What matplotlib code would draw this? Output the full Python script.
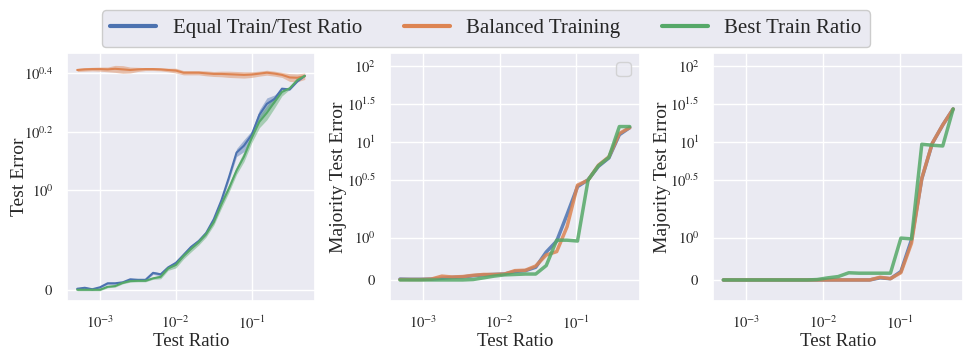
import numpy as np
import matplotlib
matplotlib.use("Agg")
import matplotlib.pyplot as plt
import seaborn as sns
from matplotlib.lines import Line2D
from matplotlib.ticker import NullLocator

# test ratios (left panel is sampled more finely)
ratio_fine = [0.0005, 0.00063, 0.00079, 0.001, 0.00126, 0.00158, 0.002, 0.0025,
              0.00316, 0.00398, 0.005, 0.0063, 0.0079, 0.01, 0.0126, 0.0158,
              0.02, 0.025, 0.0316, 0.0398, 0.05, 0.063, 0.079, 0.1, 0.126,
              0.158, 0.2, 0.25, 0.316, 0.398, 0.5]
ratio_coarse = [0.0005, 0.00068, 0.00094, 0.00128, 0.00176, 0.0024, 0.0033,
                0.0045, 0.0062, 0.0084, 0.0116, 0.0158, 0.0217, 0.0296, 0.0406,
                0.0556, 0.076, 0.104, 0.143, 0.195, 0.267, 0.366, 0.5]

# left panel: mean test error and spread
equal_err = [0.01, 0.02, 0.005, 0.025, 0.065, 0.065, 0.075, 0.105, 0.10, 0.10,
             0.17, 0.155, 0.225, 0.27, 0.35, 0.43, 0.49, 0.57, 0.71, 0.90,
             1.13, 1.38, 1.45, 1.56, 1.76, 1.87, 1.92, 2.06, 2.04, 2.26, 2.43]
equal_sd = [0.01, 0.01, 0.01, 0.01, 0.01, 0.01, 0.01, 0.01, 0.01, 0.01,
            0.015, 0.015, 0.015, 0.02, 0.02, 0.02, 0.02, 0.02, 0.025, 0.03,
            0.03, 0.04, 0.06, 0.04, 0.05, 0.06, 0.04, 0.02, 0.02, 0.02, 0.02]
balanced_err = [2.62, 2.64, 2.65, 2.65, 2.64, 2.66, 2.64, 2.62, 2.64, 2.65,
                2.65, 2.64, 2.62, 2.60, 2.53, 2.53, 2.53, 2.51, 2.49, 2.49,
                2.48, 2.47, 2.46, 2.47, 2.50, 2.53, 2.50, 2.46, 2.38, 2.37, 2.42]
balanced_sd = [0.05, 0.06, 0.06, 0.07, 0.08, 0.12, 0.13, 0.10, 0.07, 0.05,
               0.05, 0.05, 0.06, 0.08, 0.07, 0.07, 0.07, 0.08, 0.08, 0.09,
               0.10, 0.10, 0.10, 0.09, 0.08, 0.08, 0.08, 0.08, 0.12, 0.12, 0.10]
best_err = [0.0, 0.0, 0.0, 0.0, 0.03, 0.037, 0.07, 0.087, 0.09, 0.09,
            0.115, 0.13, 0.215, 0.25, 0.34, 0.41, 0.48, 0.56, 0.68, 0.86,
            1.02, 1.20, 1.34, 1.53, 1.69, 1.78, 1.89, 1.99, 2.07, 2.30, 2.43]
best_sd = [0.01, 0.01, 0.01, 0.01, 0.01, 0.01, 0.01, 0.01, 0.01, 0.01,
           0.01, 0.02, 0.02, 0.03, 0.03, 0.03, 0.03, 0.03, 0.03, 0.04,
           0.04, 0.04, 0.05, 0.05, 0.06, 0.07, 0.06, 0.04, 0.03, 0.02, 0.02]

# middle panel: majority test error
equal_maj = [0.02, 0.015, 0.015, 0.02, 0.04, 0.06, 0.07, 0.10, 0.12, 0.13, 0.14,
             0.20, 0.22, 0.30, 0.66, 0.92, 1.55, 2.6, 3.2, 4.8, 6.2, 12.5, 15.5]
balanced_maj = [0.01, 0.01, 0.01, 0.02, 0.09, 0.07, 0.08, 0.11, 0.13, 0.13, 0.14,
                0.22, 0.23, 0.33, 0.59, 0.67, 1.26, 2.72, 3.17, 4.98, 6.4, 13.0, 15.5]
best_maj = [0.0, 0.0, 0.0, 0.0, 0.0, 0.0, 0.0, 0.01, 0.05, 0.09, 0.12,
            0.13, 0.14, 0.14, 0.34, 0.94, 0.94, 0.92, 3.18, 4.9, 6.3, 16.0, 16.0]

# right panel: majority test error
equal_maj_r = [0.0, 0.0, 0.0, 0.0, 0.0, 0.0, 0.0, 0.0, 0.0, 0.0, 0.0, 0.0,
               0.0, 0.0, 0.0, 0.05, 0.03, 0.20, 0.95, 3.3, 9.6, 16.8, 27.2]
balanced_maj_r = [0.0, 0.0, 0.0, 0.0, 0.0, 0.0, 0.0, 0.0, 0.0, 0.0, 0.0, 0.0,
                  0.0, 0.0, 0.0, 0.064, 0.031, 0.173, 0.87, 3.35, 9.66, 16.8, 27.2]
best_maj_r = [0.0, 0.0, 0.0, 0.0, 0.0, 0.0, 0.0, 0.0, 0.0, 0.01, 0.05, 0.08,
              0.17, 0.16, 0.16, 0.16, 0.16, 0.99, 0.97, 9.37, 9.1, 8.9, 27.2]

series_names = ["Equal Train/Test Ratio", "Balanced Training", "Best Train Ratio"]

left_yticks = [0, 1, 10 ** 0.2, 10 ** 0.4]
left_ylabels = ["$0$", "$10^{0}$", "$10^{0.2}$", "$10^{0.4}$"]
maj_yticks = [0, 1, 10 ** 0.5, 10, 10 ** 1.5, 100]
maj_ylabels = ["$0$", "$10^{0}$", "$10^{0.5}$", "$10^{1}$", "$10^{1.5}$", "$10^{2}$"]
xticks = [1e-3, 1e-2, 1e-1]
xlabels = ["$10^{-3}$", "$10^{-2}$", "$10^{-1}$"]

sns.set_theme(style="darkgrid")
plt.rcParams["font.family"] = ["Liberation Serif", "DejaVu Serif"]
plt.rcParams["mathtext.fontset"] = "stix"

colors = sns.color_palette("deep")[:3]

fig = plt.figure(figsize=(9.72, 3.54), dpi=100)
ax1 = fig.add_axes([0.0692, 0.1506, 0.2548, 0.6997])
ax2 = fig.add_axes([0.4012, 0.1506, 0.2572, 0.6997])
ax3 = fig.add_axes([0.7339, 0.1506, 0.2572, 0.6997])

x = np.array(ratio_fine)
for m, s, c in [(equal_err, equal_sd, colors[0]),
                (balanced_err, balanced_sd, colors[1]),
                (best_err, best_sd, colors[2])]:
    m = np.array(m)
    s = np.array(s)
    ax1.fill_between(x, m - s, m + s, color=c, alpha=0.45, lw=0)
    ax1.plot(x, m, color=c, lw=1.5)

for ax, data in [(ax2, [equal_maj, balanced_maj, best_maj]),
                 (ax3, [equal_maj_r, balanced_maj_r, best_maj_r])]:
    for vals, c in zip(data, colors):
        ax.plot(ratio_coarse, vals, color=c, lw=2.5, alpha=0.85)

for ax in (ax1, ax2, ax3):
    ax.set_xscale("log")
    ax.set_yscale("symlog", linthresh=2, linscale=1)
    ax.set_xticks(xticks)
    ax.set_xticklabels(xlabels)
    ax.xaxis.set_minor_locator(NullLocator())
    ax.yaxis.set_minor_locator(NullLocator())
    ax.tick_params(labelsize=10.5, pad=4)
    ax.set_xlabel("Test Ratio", fontsize=13.5, labelpad=1)
    ax.set_xlim(3.7e-4, 0.68)

ax1.set_yticks(left_yticks)
ax1.set_yticklabels(left_ylabels)
ax1.set_ylim(-0.11, 3.26)
ax1.set_ylabel("Test Error", fontsize=14)
ax1.yaxis.set_label_coords(-0.16, 0.5)

for ax in (ax2, ax3):
    ax.set_yticks(maj_yticks)
    ax.set_yticklabels(maj_ylabels)
    ax.set_ylim(-0.49, 148)
    ax.set_ylabel("Majority Test Error", fontsize=14)
    ax.yaxis.set_label_coords(-0.17, 0.5)

ax2.legend(handles=[], loc="upper right", fontsize=13)

handles = [Line2D([], [], color=c, lw=3) for c in colors]
fig.legend(handles, series_names, loc="upper center", ncol=3,
           bbox_to_anchor=(0.5, 1.0), fontsize=15, handlelength=2.2,
           edgecolor="0.8", facecolor="#EAEAF2", framealpha=1)

fig.savefig("out.png", dpi=100)
